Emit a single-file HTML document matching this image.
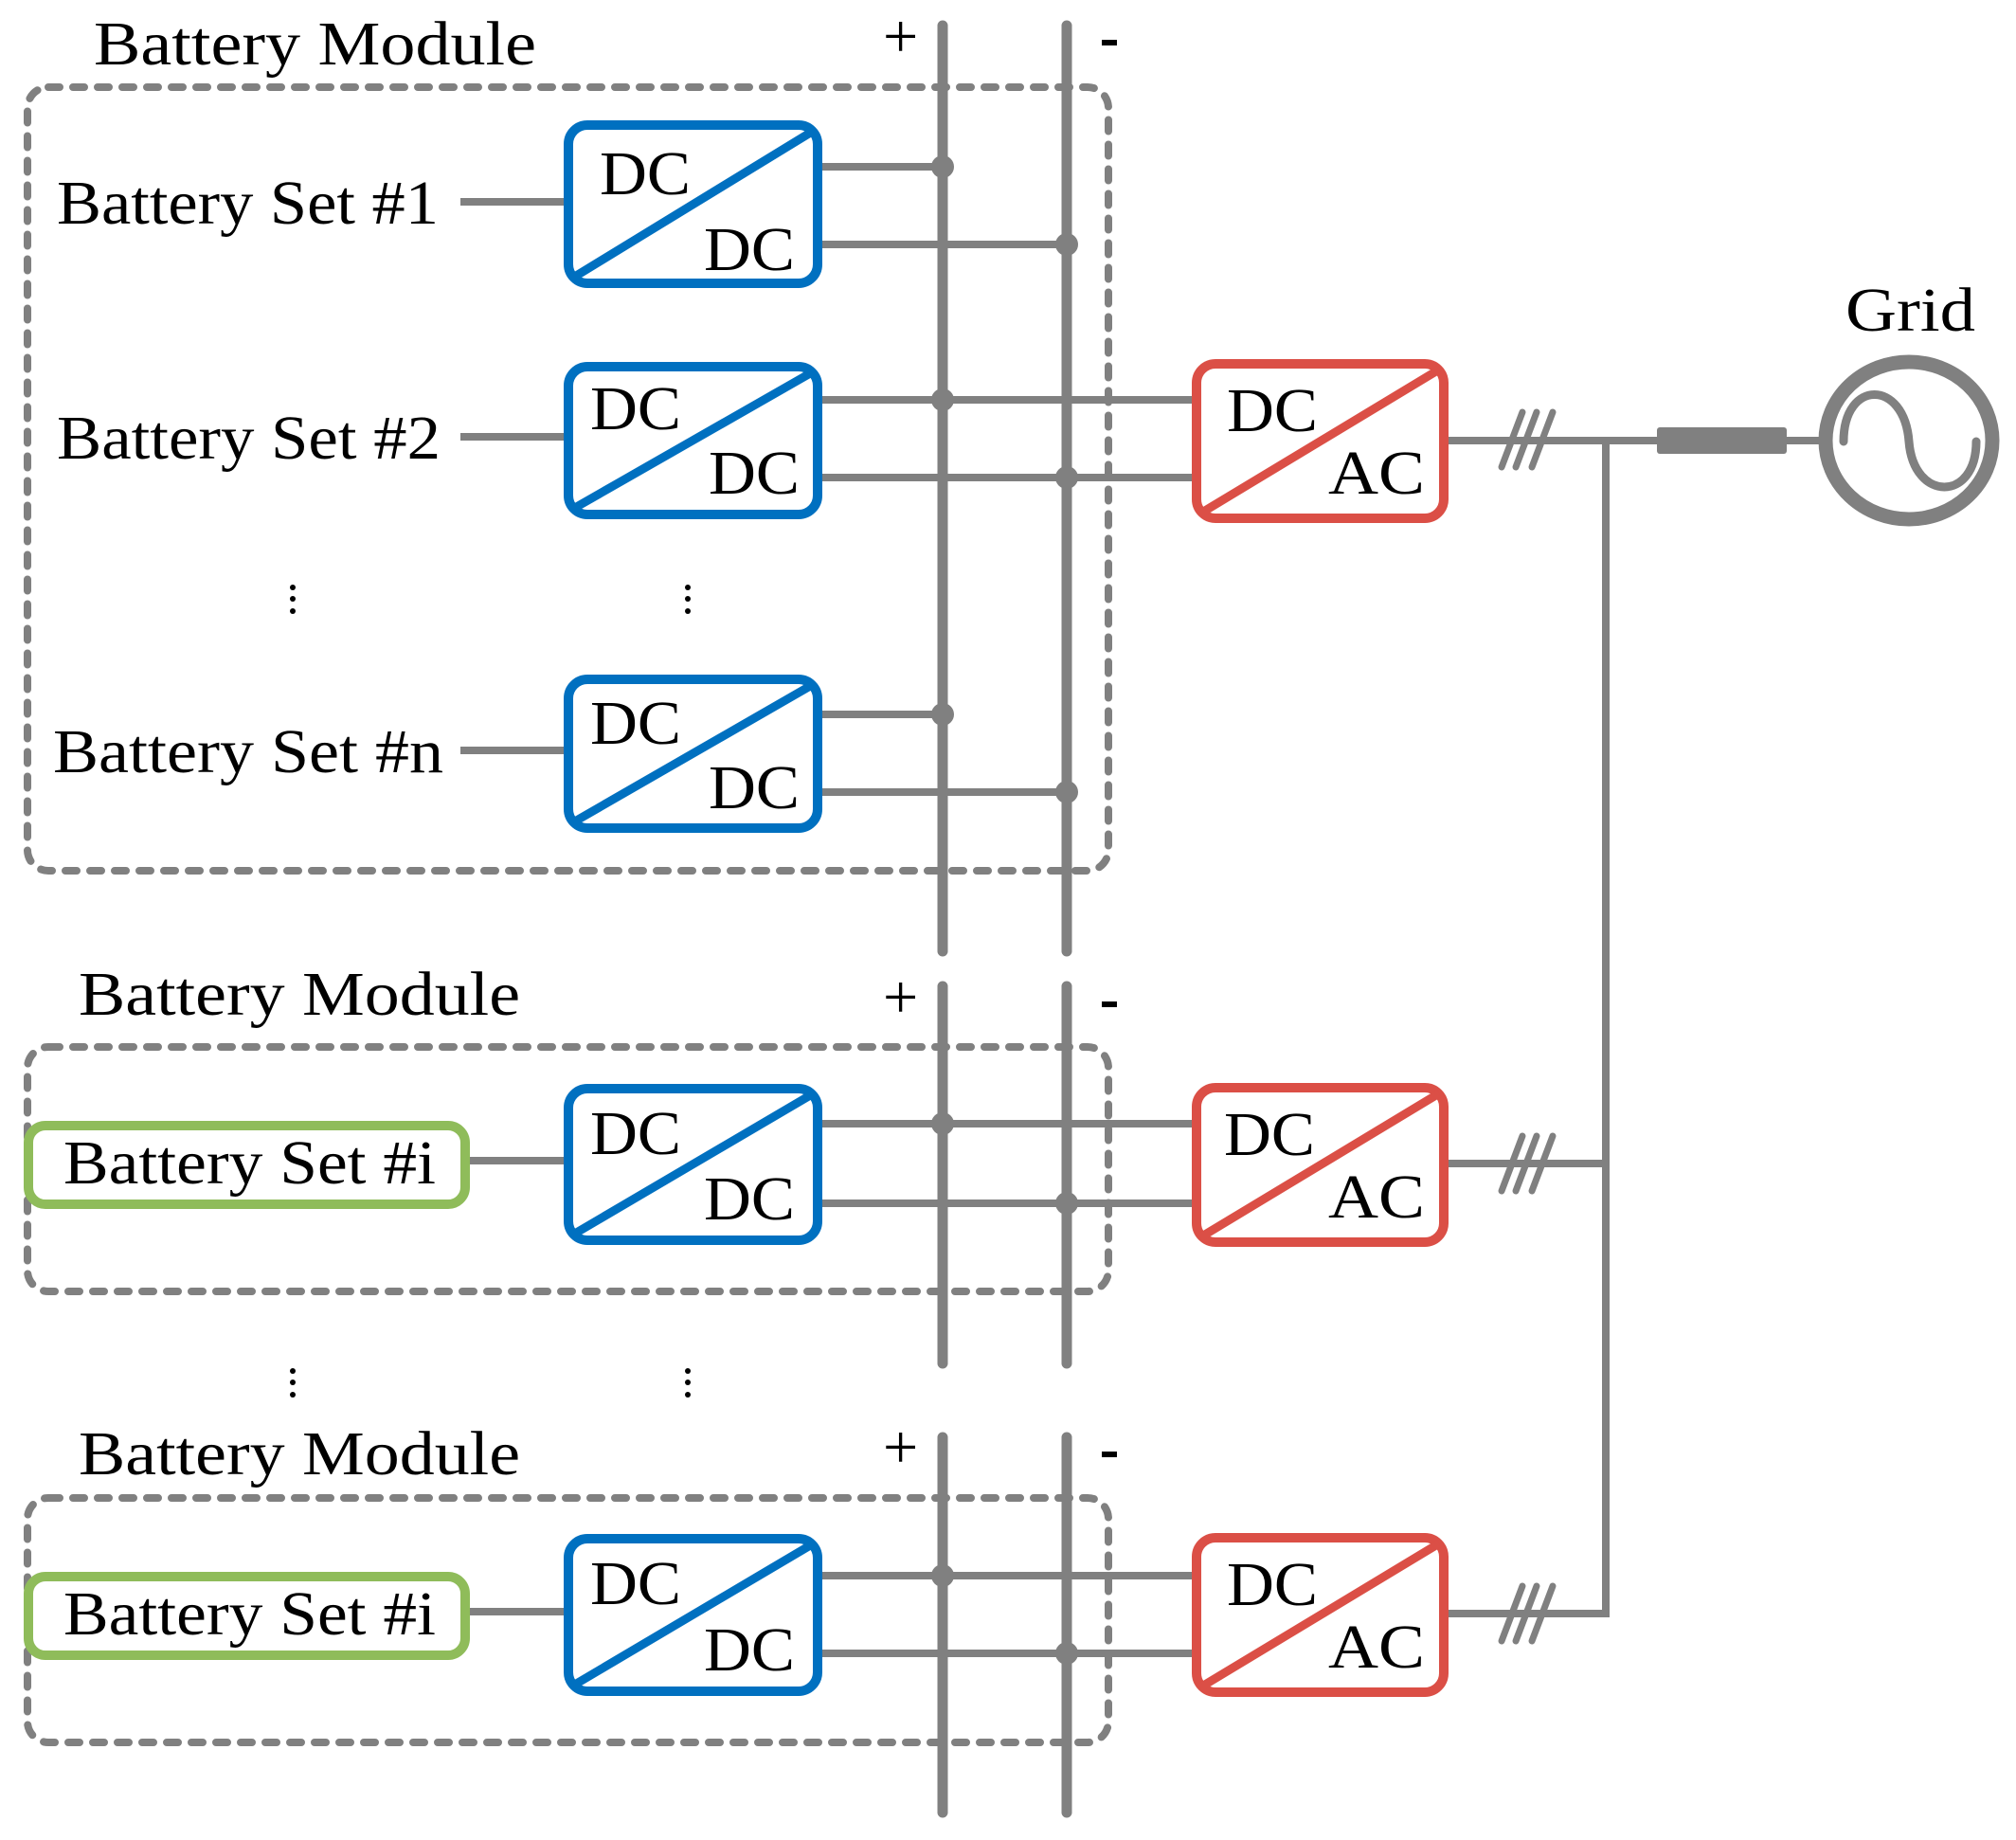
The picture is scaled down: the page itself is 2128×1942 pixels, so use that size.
<!DOCTYPE html>
<html><head><meta charset="utf-8"><style>
html,body{margin:0;padding:0;background:#fff;}
svg{display:block;}
text{font-family:"Liberation Serif",serif;fill:#000;}
</style></head><body>
<svg width="2128" height="1942" viewBox="0 0 2128 1942" xmlns="http://www.w3.org/2000/svg">
<g fill="none" stroke="#808080" stroke-width="8" stroke-linecap="round" stroke-dasharray="12 14">
<rect x="29" y="92" width="1141" height="827" rx="22"/>
<rect x="29" y="1105" width="1141" height="258" rx="22"/>
<rect x="29" y="1581" width="1141" height="258" rx="22"/>
</g>
<g stroke="#808080" stroke-width="11" stroke-linecap="round">
<line x1="995" y1="27" x2="995" y2="1004"/><line x1="1126" y1="27" x2="1126" y2="1004"/>
<line x1="995" y1="1041" x2="995" y2="1439"/><line x1="1126" y1="1041" x2="1126" y2="1439"/>
<line x1="995" y1="1517" x2="995" y2="1913"/><line x1="1126" y1="1517" x2="1126" y2="1913"/>
</g>
<g stroke="#808080" stroke-width="8">
<line x1="486" y1="213" x2="600" y2="213"/><line x1="486" y1="461" x2="600" y2="461"/><line x1="486" y1="792" x2="600" y2="792"/>
<line x1="491" y1="1225" x2="600" y2="1225"/><line x1="491" y1="1701" x2="600" y2="1701"/>
<line x1="863" y1="176" x2="995" y2="176"/><line x1="863" y1="258" x2="1126" y2="258"/>
<line x1="863" y1="422" x2="1263" y2="422"/><line x1="863" y1="504" x2="1263" y2="504"/>
<line x1="863" y1="754" x2="995" y2="754"/><line x1="863" y1="836" x2="1126" y2="836"/>
<line x1="863" y1="1186" x2="1263" y2="1186"/><line x1="863" y1="1270" x2="1263" y2="1270"/>
<line x1="863" y1="1663" x2="1263" y2="1663"/><line x1="863" y1="1745" x2="1263" y2="1745"/>
<line x1="1524" y1="465" x2="1925" y2="465"/>
<line x1="1524" y1="1228" x2="1698" y2="1228"/>
<line x1="1524" y1="1703" x2="1698" y2="1703"/>
<line x1="1695" y1="465" x2="1695" y2="1707"/>
</g>
<g fill="#808080">
<circle cx="995" cy="176" r="12"/><circle cx="1126" cy="258" r="12"/>
<circle cx="995" cy="422" r="12"/><circle cx="1126" cy="504" r="12"/>
<circle cx="995" cy="754" r="12"/><circle cx="1126" cy="836" r="12"/>
<circle cx="995" cy="1186" r="12"/><circle cx="1126" cy="1270" r="12"/>
<circle cx="995" cy="1663" r="12"/><circle cx="1126" cy="1745" r="12"/>
<rect x="1749" y="451" width="137" height="28" rx="3"/>
</g>
<g stroke="#808080" stroke-width="7" stroke-linecap="round">
<line x1="1585" y1="493" x2="1607" y2="435"/><line x1="1600" y1="493" x2="1622" y2="435"/><line x1="1617" y1="493" x2="1639" y2="435"/>
<line x1="1585" y1="1257" x2="1607" y2="1199"/><line x1="1600" y1="1257" x2="1622" y2="1199"/><line x1="1617" y1="1257" x2="1639" y2="1199"/>
<line x1="1585" y1="1732" x2="1607" y2="1674"/><line x1="1600" y1="1732" x2="1622" y2="1674"/><line x1="1617" y1="1732" x2="1639" y2="1674"/>
</g>
<ellipse cx="2015" cy="465" rx="88" ry="83" fill="none" stroke="#808080" stroke-width="15"/>
<path d="M1946 466 C1946 400 2010 400 2015 466 C2020 530 2086 530 2086 466" fill="none" stroke="#808080" stroke-width="9" stroke-linecap="round"/>
<text x="1948" y="349" font-size="66" textLength="137" lengthAdjust="spacingAndGlyphs">Grid</text>
<g fill="#fff" stroke="#0070C0" stroke-width="10">
<rect x="600" y="132" width="263" height="167" rx="20"/>
<rect x="600" y="387" width="263" height="156" rx="20"/>
<rect x="600" y="717" width="263" height="157" rx="20"/>
<rect x="600" y="1149" width="263" height="160" rx="20"/>
<rect x="600" y="1624" width="263" height="161" rx="20"/>
</g>
<g stroke="#0070C0" stroke-width="9">
<line x1="605" y1="293" x2="857" y2="139"/>
<line x1="605" y1="537" x2="857" y2="393"/>
<line x1="605" y1="868" x2="857" y2="723"/>
<line x1="605" y1="1303" x2="857" y2="1155"/>
<line x1="605" y1="1779" x2="857" y2="1630"/>
</g>
<g font-size="66">
<text x="633" y="205" textLength="96" lengthAdjust="spacingAndGlyphs">DC</text><text x="743" y="285" textLength="96" lengthAdjust="spacingAndGlyphs">DC</text>
<text x="623" y="453" textLength="96" lengthAdjust="spacingAndGlyphs">DC</text><text x="748" y="521" textLength="96" lengthAdjust="spacingAndGlyphs">DC</text>
<text x="623" y="785" textLength="96" lengthAdjust="spacingAndGlyphs">DC</text><text x="748" y="853" textLength="96" lengthAdjust="spacingAndGlyphs">DC</text>
<text x="623" y="1218" textLength="96" lengthAdjust="spacingAndGlyphs">DC</text><text x="743" y="1287" textLength="96" lengthAdjust="spacingAndGlyphs">DC</text>
<text x="623" y="1693" textLength="96" lengthAdjust="spacingAndGlyphs">DC</text><text x="743" y="1763" textLength="96" lengthAdjust="spacingAndGlyphs">DC</text>
</g>
<g fill="#fff" stroke="#DB4F46" stroke-width="10">
<rect x="1263" y="384" width="261" height="163" rx="20"/>
<rect x="1263" y="1148" width="261" height="163" rx="20"/>
<rect x="1263" y="1623" width="261" height="163" rx="20"/>
</g>
<g stroke="#DB4F46" stroke-width="9">
<line x1="1267" y1="542" x2="1519" y2="390"/>
<line x1="1267" y1="1306" x2="1519" y2="1154"/>
<line x1="1267" y1="1781" x2="1519" y2="1629"/>
</g>
<g font-size="66">
<text x="1295" y="455" textLength="96" lengthAdjust="spacingAndGlyphs">DC</text><text x="1402" y="521" textLength="102" lengthAdjust="spacingAndGlyphs">AC</text>
<text x="1292" y="1219" textLength="96" lengthAdjust="spacingAndGlyphs">DC</text><text x="1402" y="1285" textLength="102" lengthAdjust="spacingAndGlyphs">AC</text>
<text x="1295" y="1694" textLength="96" lengthAdjust="spacingAndGlyphs">DC</text><text x="1402" y="1760" textLength="102" lengthAdjust="spacingAndGlyphs">AC</text>
</g>
<g fill="#fff" stroke="#8FBC5A" stroke-width="10">
<rect x="30" y="1188" width="461" height="83" rx="18"/>
<rect x="30" y="1664" width="461" height="83" rx="18"/>
</g>
<g font-size="66">
<text x="99" y="68" textLength="467" lengthAdjust="spacingAndGlyphs">Battery Module</text>
<text x="83" y="1071" textLength="466" lengthAdjust="spacingAndGlyphs">Battery Module</text>
<text x="83" y="1556" textLength="466" lengthAdjust="spacingAndGlyphs">Battery Module</text>
<text x="60" y="236" textLength="403" lengthAdjust="spacingAndGlyphs">Battery Set #1</text>
<text x="60" y="484" textLength="405" lengthAdjust="spacingAndGlyphs">Battery Set #2</text>
<text x="56" y="815" textLength="412" lengthAdjust="spacingAndGlyphs">Battery Set #n</text>
<text x="67" y="1249" textLength="393" lengthAdjust="spacingAndGlyphs">Battery Set #i</text>
<text x="67" y="1725" textLength="393" lengthAdjust="spacingAndGlyphs">Battery Set #i</text>
<text x="932" y="60" font-size="66">+</text>
<text x="932" y="1074" font-size="66">+</text>
<text x="932" y="1549" font-size="66">+</text>
<rect x="1163" y="42" width="16" height="6" fill="#000"/>
<rect x="1163" y="1057" width="16" height="6" fill="#000"/>
<rect x="1163" y="1532" width="16" height="6" fill="#000"/>
</g>
<g fill="#000">
<circle cx="309" cy="620" r="3"/><circle cx="309" cy="632" r="3"/><circle cx="309" cy="645" r="3"/>
<circle cx="726" cy="620" r="3"/><circle cx="726" cy="632" r="3"/><circle cx="726" cy="645" r="3"/>
<circle cx="309" cy="1447" r="3"/><circle cx="309" cy="1459" r="3"/><circle cx="309" cy="1472" r="3"/>
<circle cx="726" cy="1447" r="3"/><circle cx="726" cy="1459" r="3"/><circle cx="726" cy="1472" r="3"/>
</g>
</svg>
</body></html>
